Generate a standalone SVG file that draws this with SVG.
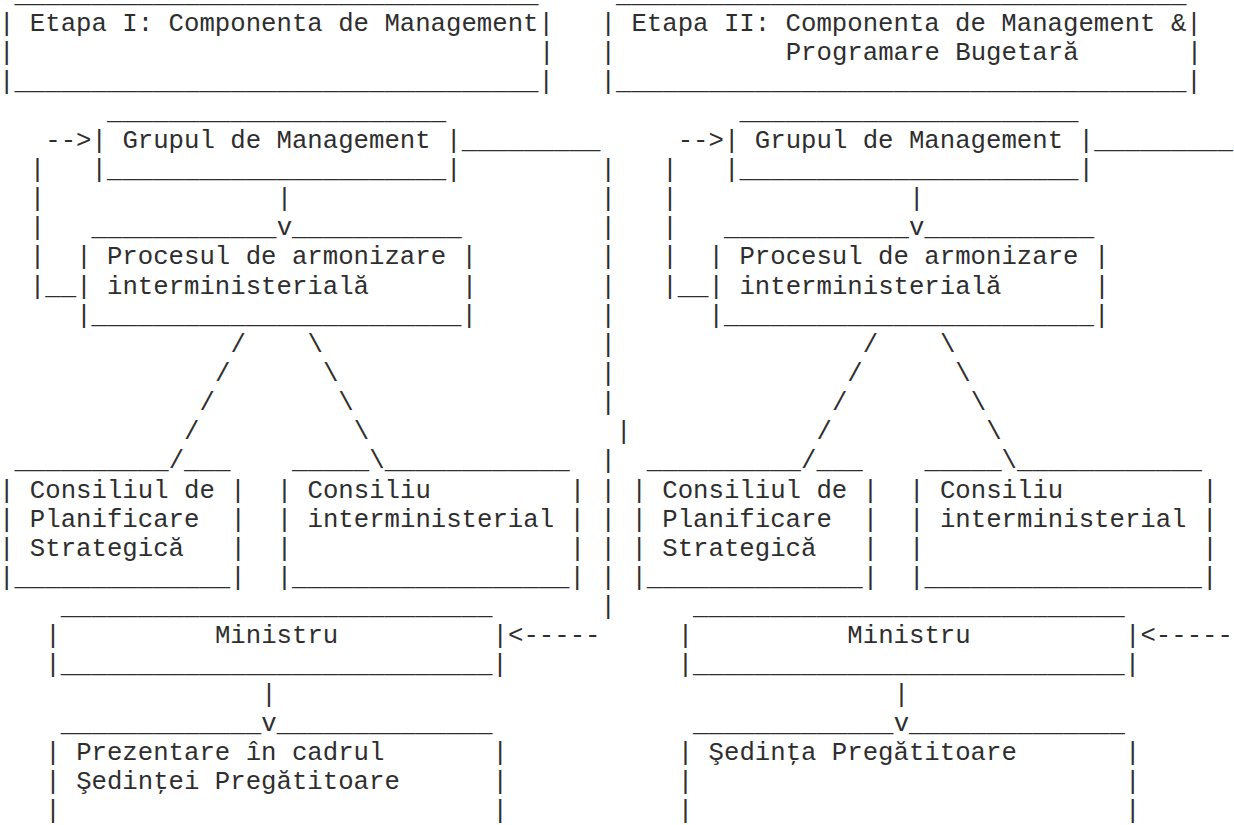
<svg xmlns="http://www.w3.org/2000/svg" width="1234" height="825" viewBox="0 0 1234 825" xml:space="preserve">
<style>
text{font-family:'Courier New','Liberation Mono',monospace;font-size:25.7px;fill:#2e2e2e;white-space:pre}
</style>
<rect width="1234" height="825" fill="#fff"/>
<g id="etapa-1">
<text x="14.43" y="2">__________________________________</text>
<text x="-1" y="31.15">| Etapa I: Componenta de Management|</text>
<text x="-1" y="60.3">|</text><text x="538.88" y="60.3">|</text>
<text x="-1" y="89.45">|__________________________________|</text>
</g>
<g id="etapa-2">
<text x="616" y="2">_____________________________________</text>
<text x="600.58" y="31.15">| Etapa II: Componenta de Management &amp;|</text>
<text x="600.58" y="60.3">|</text><text x="785.68" y="60.3">Programare Bugetară</text><text x="1186.73" y="60.3">|</text>
<text x="600.58" y="89.45">|_____________________________________|</text>
</g>
<g id="stage-1">
<g id="grupul-1">
<text x="106.98" y="118.6">______________________</text>
<text x="91.55" y="147.75">| Grupul de Management |</text>
<text x="91.55" y="176.9">|______________________|</text>
</g>
<g id="procesul-1">
<text x="91.55" y="235.2">____________</text><text x="292.08" y="235.2">___________</text>
<text x="76.13" y="264.35">| Procesul de armonizare |</text>
<text x="76.13" y="293.5">|</text><text x="106.98" y="293.5">interministerială</text><text x="461.75" y="293.5">|</text>
<text x="76.13" y="322.65">|________________________|</text>
</g>
<g id="consiliul-1">
<text x="14.43" y="468.4">__________</text><text x="184.1" y="468.4">___</text>
<text x="-1" y="497.55">| Consiliul de |</text>
<text x="-1" y="526.7">|</text><text x="29.85" y="526.7">Planificare</text><text x="230.38" y="526.7">|</text>
<text x="-1" y="555.85">|</text><text x="29.85" y="555.85">Strategică</text><text x="230.38" y="555.85">|</text>
<text x="-1" y="585">|______________|</text>
</g>
<g id="interministerial-1">
<text x="292.08" y="468.4">_____</text><text x="384.63" y="468.4">____________</text>
<text x="276.65" y="497.55">|</text><text x="307.5" y="497.55">Consiliu</text><text x="569.73" y="497.55">|</text>
<text x="276.65" y="526.7">| interministerial |</text>
<text x="276.65" y="555.85">|</text><text x="569.73" y="555.85">|</text>
<text x="276.65" y="585">|__________________|</text>
</g>
<g id="ministru-1">
<text x="60.7" y="614.15">____________________________</text>
<text x="45.28" y="643.3">|</text><text x="214.95" y="643.3">Ministru</text><text x="492.6" y="643.3">|</text>
<text x="45.28" y="672.45">|____________________________|</text>
</g>
<g id="sedinta-1">
<text x="60.7" y="730.75">_____________</text><text x="276.65" y="730.75">______________</text>
<text x="45.28" y="759.9">|</text><text x="76.13" y="759.9">Prezentare în cadrul</text><text x="492.6" y="759.9">|</text>
<text x="45.28" y="789.05">|</text><text x="76.13" y="789.05">Şedinţei Pregătitoare</text><text x="492.6" y="789.05">|</text>
<text x="45.28" y="818.2">|</text><text x="492.6" y="818.2">|</text>
</g>
</g>
<g id="stage-2" transform="translate(632.425 0)">
<g id="grupul-2">
<text x="106.98" y="118.6">______________________</text>
<text x="91.55" y="147.75">| Grupul de Management |</text>
<text x="91.55" y="176.9">|______________________|</text>
</g>
<g id="procesul-2">
<text x="91.55" y="235.2">____________</text><text x="292.08" y="235.2">___________</text>
<text x="76.13" y="264.35">| Procesul de armonizare |</text>
<text x="76.13" y="293.5">|</text><text x="106.98" y="293.5">interministerială</text><text x="461.75" y="293.5">|</text>
<text x="76.13" y="322.65">|________________________|</text>
</g>
<g id="consiliul-2">
<text x="14.43" y="468.4">__________</text><text x="184.1" y="468.4">___</text>
<text x="-1" y="497.55">| Consiliul de |</text>
<text x="-1" y="526.7">|</text><text x="29.85" y="526.7">Planificare</text><text x="230.38" y="526.7">|</text>
<text x="-1" y="555.85">|</text><text x="29.85" y="555.85">Strategică</text><text x="230.38" y="555.85">|</text>
<text x="-1" y="585">|______________|</text>
</g>
<g id="interministerial-2">
<text x="292.08" y="468.4">_____</text><text x="384.63" y="468.4">____________</text>
<text x="276.65" y="497.55">|</text><text x="307.5" y="497.55">Consiliu</text><text x="569.73" y="497.55">|</text>
<text x="276.65" y="526.7">| interministerial |</text>
<text x="276.65" y="555.85">|</text><text x="569.73" y="555.85">|</text>
<text x="276.65" y="585">|__________________|</text>
</g>
<g id="ministru-2">
<text x="60.7" y="614.15">____________________________</text>
<text x="45.28" y="643.3">|</text><text x="214.95" y="643.3">Ministru</text><text x="492.6" y="643.3">|</text>
<text x="45.28" y="672.45">|____________________________|</text>
</g>
<g id="sedinta-2">
<text x="60.7" y="730.75">_____________</text><text x="276.65" y="730.75">______________</text>
<text x="45.28" y="759.9">|</text><text x="76.13" y="759.9">Şedinţa Pregătitoare</text><text x="492.6" y="759.9">|</text>
<text x="45.28" y="789.05">|</text><text x="492.6" y="789.05">|</text>
<text x="45.28" y="818.2">|</text><text x="492.6" y="818.2">|</text>
</g>
</g>
<g id="connectors">
<g id="connectors-1">
<text x="45.28" y="147.75">--&gt;</text>
<text x="29.85" y="176.9">|</text><text x="29.85" y="206.05">|</text><text x="29.85" y="235.2">|</text><text x="29.85" y="264.35">|</text>
<text x="29.85" y="293.5">|__</text>
<text x="276.65" y="206.05">|</text><text x="276.65" y="235.2">v</text>
<text x="230.38" y="351.8">/</text><text x="307.5" y="351.8">\</text>
<text x="214.95" y="380.95">/</text><text x="322.93" y="380.95">\</text>
<text x="199.53" y="410.1">/</text><text x="338.35" y="410.1">\</text>
<text x="184.1" y="439.25">/</text><text x="353.78" y="439.25">\</text>
<text x="168.68" y="468.4">/</text><text x="369.2" y="468.4">\</text>
<text x="261.23" y="701.6">|</text><text x="261.23" y="730.75">v</text>
<text x="461.75" y="147.75">_________</text>
<text x="600.58" y="176.9">|</text><text x="600.58" y="206.05">|</text><text x="600.58" y="235.2">|</text><text x="600.58" y="264.35">|</text><text x="600.58" y="293.5">|</text><text x="600.58" y="322.65">|</text><text x="600.58" y="351.8">|</text><text x="600.58" y="380.95">|</text><text x="600.58" y="410.1">|</text>
<text x="616" y="439.25">|</text>
<text x="600.58" y="468.4">|</text><text x="600.58" y="497.55">|</text><text x="600.58" y="526.7">|</text><text x="600.58" y="555.85">|</text><text x="600.58" y="585">|</text><text x="600.58" y="614.15">|</text>
<text x="508.03" y="643.3">&lt;-----</text>
</g>
<g id="connectors-2" transform="translate(632.425 0)">
<text x="45.28" y="147.75">--&gt;</text>
<text x="29.85" y="176.9">|</text><text x="29.85" y="206.05">|</text><text x="29.85" y="235.2">|</text><text x="29.85" y="264.35">|</text>
<text x="29.85" y="293.5">|__</text>
<text x="276.65" y="206.05">|</text><text x="276.65" y="235.2">v</text>
<text x="230.38" y="351.8">/</text><text x="307.5" y="351.8">\</text>
<text x="214.95" y="380.95">/</text><text x="322.93" y="380.95">\</text>
<text x="199.53" y="410.1">/</text><text x="338.35" y="410.1">\</text>
<text x="184.1" y="439.25">/</text><text x="353.78" y="439.25">\</text>
<text x="168.68" y="468.4">/</text><text x="369.2" y="468.4">\</text>
<text x="261.23" y="701.6">|</text><text x="261.23" y="730.75">v</text>
<text x="461.75" y="147.75">_________</text>
<text x="508.03" y="643.3">&lt;-----</text>
</g>
</g>
</svg>
